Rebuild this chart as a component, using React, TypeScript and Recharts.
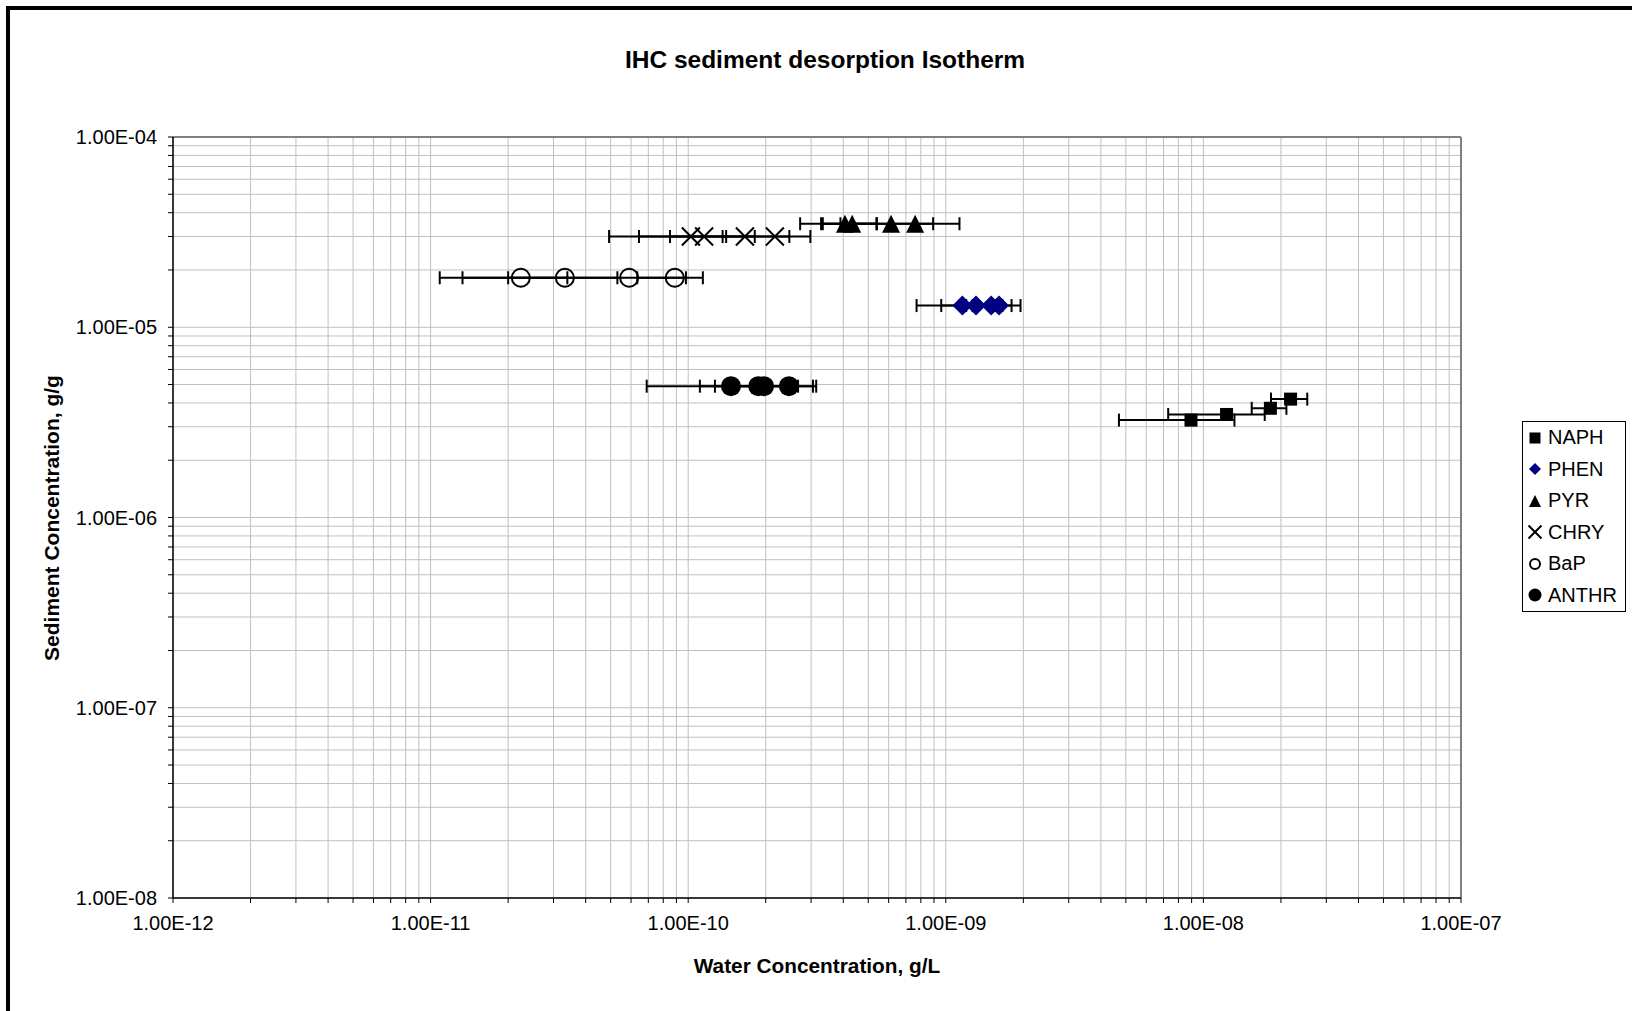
import React from 'react';
import { ScatterChart, Scatter, XAxis, YAxis, CartesianGrid, ErrorBar, ReferenceLine, Legend } from 'recharts';

const FONT = 'Arial, "Liberation Sans", sans-serif';

// axis decades (labels) - minor ticks are 2..9 within each decade
const xDecades = [1e-12, 1e-11, 1e-10, 1e-9, 1e-8, 1e-7];
const yDecades = [1e-8, 1e-7, 1e-6, 1e-5, 1e-4];
const minorSteps = [1, 2, 3, 4, 5, 6, 7, 8, 9];

// water conc (g/L), sediment conc (g/g), +/- error on water conc
const naphX = [8.95e-9, 1.23e-8, 1.82e-8, 2.18e-8];
const naphY = [3.25e-6, 3.48e-6, 3.75e-6, 4.19e-6];
const naphErr = [4.25e-9, 5.0e-9, 2.8e-9, 3.5e-9];

const phenX = [1.16e-9, 1.31e-9, 1.5e-9, 1.61e-9];
const phenY = [1.3e-5, 1.3e-5, 1.3e-5, 1.3e-5];
const phenErr = [3.9e-10, 3.5e-10, 3.0e-10, 3.4e-10];

const pyrX = [4.06e-10, 4.33e-10, 6.13e-10, 7.6e-10];
const pyrY = [3.5e-5, 3.5e-5, 3.5e-5, 3.5e-5];
const pyrErr = [1.34e-10, 1.05e-10, 2.8e-10, 3.7e-10];

const chryX = [1.024e-10, 1.153e-10, 1.66e-10, 2.17e-10];
const chryY = [3.0e-5, 3.0e-5, 3.0e-5, 3.0e-5];
const chryErr = [3.8e-11, 6.6e-11, 8.1e-11, 8.1e-11];

const bapX = [2.24e-11, 3.32e-11, 5.9e-11, 8.87e-11];
const bapY = [1.82e-5, 1.82e-5, 1.82e-5, 1.82e-5];
const bapErr = [1.155e-11, 1.99e-11, 3.9e-11, 2.53e-11];

const anthrX = [1.466e-10, 1.87e-10, 1.97e-10, 2.46e-10];
const anthrY = [4.9e-6, 4.9e-6, 4.9e-6, 4.9e-6];
const anthrErr = [3.56e-11, 1.18e-10, 7.0e-11, 6.8e-11];

const toPoints = (xs: number[], ys: number[], errs: number[]) =>
  xs.map((x, i) => ({ x, y: ys[i], err: errs[i] }));

type Kind = 'square' | 'diamond' | 'triangle' | 'x' | 'ring' | 'dot';

const series: { name: string; kind: Kind; color: string; data: any[] }[] = [
  { name: 'NAPH', kind: 'square', color: '#000000', data: toPoints(naphX, naphY, naphErr) },
  { name: 'PHEN', kind: 'diamond', color: '#000080', data: toPoints(phenX, phenY, phenErr) },
  { name: 'PYR', kind: 'triangle', color: '#000000', data: toPoints(pyrX, pyrY, pyrErr) },
  { name: 'CHRY', kind: 'x', color: '#000000', data: toPoints(chryX, chryY, chryErr) },
  { name: 'BaP', kind: 'ring', color: '#000000', data: toPoints(bapX, bapY, bapErr) },
  { name: 'ANTHR', kind: 'dot', color: '#000000', data: toPoints(anthrX, anthrY, anthrErr) },
];

const withMinor = (decades: number[]) => {
  const out: number[] = [];
  decades.forEach((d, i) => {
    if (i === decades.length - 1) out.push(d);
    else minorSteps.forEach(m => out.push(d * m));
  });
  return out;
};
const xTicks = withMinor(xDecades);
const yTicks = withMinor(yDecades);

const fmt = (v: number) => {
  const e = Math.log10(v);
  const n = Math.round(e);
  if (Math.abs(e - n) > 1e-6) return '';
  return `1.00E${n < 0 ? '-' : '+'}${String(Math.abs(n)).padStart(2, '0')}`;
};

// size = overall symbol size in px
function drawMarker(kind: Kind, cx: number, cy: number, size: number, color: string) {
  const h = size / 2;
  switch (kind) {
    case 'square':
      return <rect x={cx - h} y={cy - h} width={size} height={size} fill={color} />;
    case 'diamond':
      return <polygon points={`${cx},${cy - h} ${cx + h},${cy} ${cx},${cy + h} ${cx - h},${cy}`} fill={color} />;
    case 'triangle':
      return <polygon points={`${cx},${cy - h} ${cx + h},${cy + h} ${cx - h},${cy + h}`} fill={color} />;
    case 'x':
      return (
        <g stroke={color} strokeWidth={2}>
          <line x1={cx - h} y1={cy - h} x2={cx + h} y2={cy + h} />
          <line x1={cx - h} y1={cy + h} x2={cx + h} y2={cy - h} />
        </g>
      );
    case 'ring':
      return <circle cx={cx} cy={cy} r={h - 1} fill="none" stroke={color} strokeWidth={2} />;
    default:
      return <circle cx={cx} cy={cy} r={h} fill={color} />;
  }
}

const plotSize: Record<Kind, number> = { square: 13, diamond: 20, triangle: 18, x: 18, ring: 20, dot: 20 };
const legendSize: Record<Kind, number> = { square: 11, diamond: 12, triangle: 12, x: 13, ring: 12, dot: 13 };

const LegendBox = () => (
  <div
    style={{
      border: '1px solid #000',
      background: '#fff',
      width: 102,
      fontFamily: FONT,
      fontSize: 20,
      color: '#000',
    }}
  >
    {series.map(s => (
      <div key={s.name} style={{ display: 'flex', alignItems: 'center', height: 31.5 }}>
        <svg width={24} height={20} style={{ marginLeft: 1 }}>
          {drawMarker(s.kind, 11, 10, legendSize[s.kind], s.color)}
        </svg>
        <span>{s.name}</span>
      </div>
    ))}
  </div>
);

const tickStyle = { fill: '#000', fontSize: 20, fontFamily: FONT };

export default function App() {
  return (
    <div style={{ position: 'absolute', left: 0, top: 0, width: 1632, height: 1011, background: '#fff', overflow: 'hidden' }}>
      <div
        style={{
          position: 'absolute',
          left: 6,
          top: 6,
          width: 1700,
          height: 1100,
          borderLeft: '4px solid #000',
          borderTop: '4px solid #000',
        }}
      />
      <div style={{ position: 'absolute', left: 0, top: 0 }}>
        <ScatterChart width={1632} height={1011} margin={{ top: 137, right: 171, bottom: 73, left: 83 }}>
          <CartesianGrid stroke="#c0c0c0" strokeWidth={1} />
          <XAxis
            type="number"
            dataKey="x"
            scale="log"
            domain={[1e-12, 1e-7]}
            allowDataOverflow
            ticks={xTicks}
            interval={0}
            tickFormatter={fmt}
            height={40}
            tickSize={5}
            tickMargin={13}
            axisLine={{ stroke: '#000', strokeWidth: 1.5 }}
            tickLine={{ stroke: '#000' }}
            tick={tickStyle}
          />
          <YAxis
            type="number"
            dataKey="y"
            scale="log"
            domain={[1e-8, 1e-4]}
            allowDataOverflow
            ticks={yTicks}
            interval={0}
            tickFormatter={fmt}
            width={90}
            tickSize={5}
            tickMargin={11}
            axisLine={{ stroke: '#000', strokeWidth: 1.5 }}
            tickLine={{ stroke: '#000' }}
            tick={tickStyle}
          />
          <ReferenceLine y={1e-4} stroke="#808080" strokeWidth={2} />
          <ReferenceLine x={1e-7} stroke="#808080" strokeWidth={2} />
          {series.map(s => (
            <Scatter
              key={s.name}
              name={s.name}
              data={s.data}
              fill={s.color}
              isAnimationActive={false}
              shape={(p: any) => drawMarker(s.kind, p.cx, p.cy, plotSize[s.kind], s.color)}
            >
              <ErrorBar dataKey="err" direction="x" width={6.5} strokeWidth={2} stroke="#000" />
            </Scatter>
          ))}
          <Legend
            layout="vertical"
            align="center"
            verticalAlign="middle"
            content={() => <LegendBox />}
            wrapperStyle={{ left: 1522, top: 421, width: 104, height: 194 }}
          />
        </ScatterChart>
      </div>
      <div
        style={{
          position: 'absolute',
          left: 825,
          top: 60,
          transform: 'translate(-50%, -50%)',
          fontFamily: FONT,
          fontWeight: 'bold',
          fontSize: 24.5,
          whiteSpace: 'nowrap',
        }}
      >
        IHC sediment desorption Isotherm
      </div>
      <div
        style={{
          position: 'absolute',
          left: 817,
          top: 966,
          transform: 'translate(-50%, -50%)',
          fontFamily: FONT,
          fontWeight: 'bold',
          fontSize: 20.8,
          whiteSpace: 'nowrap',
        }}
      >
        Water Concentration, g/L
      </div>
      <div
        style={{
          position: 'absolute',
          left: 52,
          top: 518,
          transform: 'translate(-50%, -50%) rotate(-90deg)',
          fontFamily: FONT,
          fontWeight: 'bold',
          fontSize: 21,
          whiteSpace: 'nowrap',
        }}
      >
        Sediment Concentration, g/g
      </div>
    </div>
  );
}
